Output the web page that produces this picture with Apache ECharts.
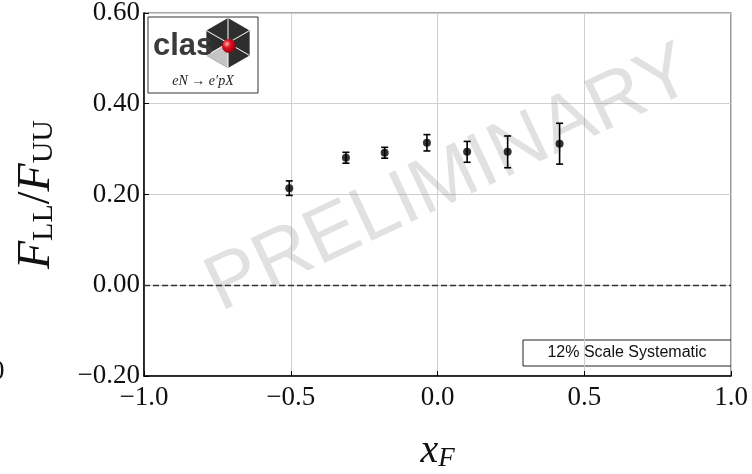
<!DOCTYPE html>
<html>
<head>
<meta charset="utf-8">
<script src="https://cdn.jsdelivr.net/npm/echarts@6/dist/echarts.min.js"></script>
<style>
  html, body { margin: 0; padding: 0; background: #fff; }
  #chart { width: 752px; height: 474px; }
</style>
</head>
<body>
<div id="chart"></div>
<script>
// x_F bins, F_LL/F_UU and stat errors
const xF = [-0.505, -0.312, -0.18, -0.036, 0.101, 0.239, 0.416];
const ratio = [0.214, 0.281, 0.292, 0.314, 0.294, 0.294, 0.312];
const err = [0.016, 0.012, 0.012, 0.018, 0.023, 0.035, 0.045];

const serif = '"Liberation Serif", "DejaVu Serif", serif';
const fmt = (v, d) => (v < -1e-9 ? '\u2212' : '') + Math.abs(v).toFixed(d);

const chart = echarts.init(document.getElementById('chart'));

const points = xF.map((x, i) => [x, ratio[i], err[i]]);

// logo hexagon
const hx = 228, hy = 43, hr = 25;
const hexPts = [];
for (let k = 0; k < 6; k++) {
  const a = -Math.PI / 2 + k * Math.PI / 3;
  hexPts.push([hx + hr * Math.cos(a), hy + hr * Math.sin(a)]);
}
const spokes = hexPts.map(p => ({
  type: 'line', shape: { x1: hx, y1: hy, x2: p[0], y2: p[1] },
  style: { stroke: '#fff', lineWidth: 1 }, z: 12
}));

chart.setOption({
  animation: false,
  grid: {
    left: 144, right: 21, top: 13, bottom: 98,
    outerBoundsMode: 'none', containLabel: false,
    show: true, borderColor: '#555', borderWidth: 1.2
  },
  xAxis: {
    type: 'value', min: -1, max: 1, interval: 0.5,
    name: '{x|x}{sub|F}',
    nameLocation: 'middle', nameGap: 55,
    nameTextStyle: {
      rich: {
        x: { fontFamily: serif, fontStyle: 'italic', fontSize: 40, color: '#111' },
        sub: { fontFamily: serif, fontStyle: 'italic', fontSize: 27, color: '#111', padding: [14, 0, 0, 0] }
      }
    },
    axisLine: { show: true, onZero: false, lineStyle: { color: '#000', width: 1.5 } },
    axisTick: { inside: true, length: 5, lineStyle: { color: '#000' } },
    axisLabel: {
      fontFamily: serif, fontSize: 27, color: '#111', margin: 8,
      formatter: v => fmt(v, 1)
    },
    splitLine: { lineStyle: { color: '#cfcfcf', width: 1 } }
  },
  yAxis: {
    type: 'value', min: -0.2, max: 0.6, interval: 0.2,
    name: '{F|F}{sub|LL}{sl|/}{F|F}{sub|UU}',
    nameLocation: 'middle', nameGap: 84, nameRotate: 90,
    nameTextStyle: {
      rich: {
        F: { fontFamily: serif, fontStyle: 'italic', fontSize: 46, color: '#111' },
        sl: { fontFamily: serif, fontSize: 46, color: '#111' },
        sub: { fontFamily: serif, fontSize: 30, color: '#111', padding: [15, 0, 0, 0] }
      }
    },
    axisLine: { show: true, onZero: false, lineStyle: { color: '#000', width: 1.5 } },
    axisTick: { inside: true, length: 5, lineStyle: { color: '#000' } },
    axisLabel: {
      fontFamily: serif, fontSize: 27, color: '#111', margin: 4,
      formatter: v => fmt(v, 2)
    },
    splitLine: { lineStyle: { color: '#cfcfcf', width: 1 } }
  },
  graphic: [
    {
      type: 'text', x: 450, y: 180, rotation: 0.44, z: 1,
      style: {
        text: 'PRELIMINARY', fill: 'rgba(120,120,120,0.22)',
        font: '78px "Liberation Sans", Arial, sans-serif',
        align: 'center', verticalAlign: 'middle'
      }
    },
    {
      type: 'group', z: 10,
      children: [
        { type: 'rect', shape: { x: 148, y: 17, width: 110, height: 76 },
          style: { fill: '#fff', stroke: '#333', lineWidth: 1 }, z: 10 },
        { type: 'polygon', shape: { points: hexPts }, style: { fill: '#2e2e2e' }, z: 11 },
        { type: 'polygon', shape: { points: [[hx, hy], hexPts[3], hexPts[4]] },
          style: { fill: '#c4c4c4' }, z: 11 },
        ...spokes,
        { type: 'text', x: 153, y: 46, z: 13,
          style: { text: 'clas', fill: '#3a3a3a',
            font: 'bold 31px "Liberation Sans", Arial, sans-serif', verticalAlign: 'middle' } },
        { type: 'circle', shape: { cx: hx + 1, cy: hy + 3, r: 7 }, z: 14,
          style: { fill: new echarts.graphic.RadialGradient(0.35, 0.35, 0.7,
            [{ offset: 0, color: '#ffb0b0' }, { offset: 0.4, color: '#e01020' }, { offset: 1, color: '#8a0010' }]) } },
        { type: 'text', x: 203, y: 81, z: 13,
          style: { text: 'eN \u2192 e\u2032pX', fill: '#222',
            font: 'italic 14px "Liberation Serif", serif', align: 'center', verticalAlign: 'middle' } }
      ]
    },
    {
      type: 'group', z: 10,
      children: [
        { type: 'rect', shape: { x: 523, y: 340, width: 208, height: 26 },
          style: { fill: '#fff', stroke: '#222', lineWidth: 1 } },
        { type: 'text', x: 627, y: 353,
          style: { text: '12% Scale Systematic', fill: '#111',
            font: '16px "Liberation Sans", Arial, sans-serif', align: 'center', verticalAlign: 'middle' } }
      ]
    },
    {
      type: 'text', x: -9, y: 372,
      style: { text: '0', fill: '#111', font: '27px "Liberation Serif", serif', verticalAlign: 'middle' }
    }
  ],
  series: [
    {
      type: 'custom', z: 3,
      data: points,
      renderItem: (params, api) => {
        const x = api.value(0), y = api.value(1), e = api.value(2);
        const top = api.coord([x, y + e]);
        const bot = api.coord([x, y - e]);
        const hw = 3.5;
        const st = { stroke: '#000', lineWidth: 1.6 };
        return {
          type: 'group',
          children: [
            { type: 'line', shape: { x1: top[0], y1: top[1], x2: bot[0], y2: bot[1] }, style: st },
            { type: 'line', shape: { x1: top[0] - hw, y1: top[1], x2: top[0] + hw, y2: top[1] }, style: st },
            { type: 'line', shape: { x1: bot[0] - hw, y1: bot[1], x2: bot[0] + hw, y2: bot[1] }, style: st }
          ]
        };
      }
    },
    {
      type: 'scatter', z: 4,
      symbol: 'circle', symbolSize: 8,
      itemStyle: { color: '#000' },
      data: points,
      markLine: {
        silent: true, symbol: 'none', label: { show: false },
        lineStyle: { color: '#333', width: 1.3, type: [6, 3] },
        data: [{ yAxis: 0 }]
      }
    }
  ]
});
</script>
</body>
</html>
